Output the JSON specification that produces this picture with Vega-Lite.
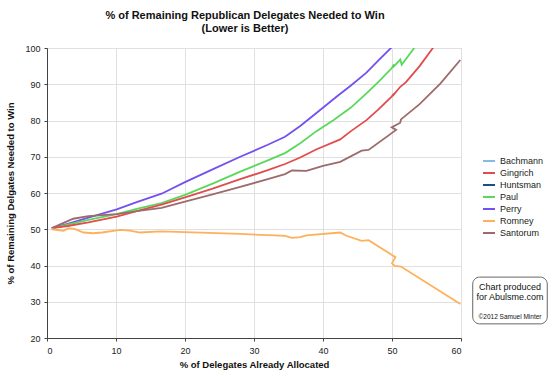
{
  "$schema": "https://vega.github.io/schema/vega-lite/v6.json",
  "autosize": "none",
  "width": 414,
  "height": 290,
  "padding": {"left": 47, "top": 48, "right": 99, "bottom": 44},
  "background": "white",
  "config": {
    "font": "Liberation Sans",
    "view": {"stroke": "#bbbbbb", "strokeWidth": 1},
    "axis": {"labelFont": "Liberation Sans", "titleFont": "Liberation Sans", "labelFontSize": 9, "titleFontSize": 9.5, "labelColor": "#222", "titleColor": "#111", "gridColor": "#e0e0e0", "domainColor": "#444", "tickColor": "#444", "labelOverlap": false}
  },
  "title": {
    "text": ["% of Remaining Republican Delegates Needed to Win", "(Lower is Better)"],
    "fontSize": 11, "fontWeight": "bold", "font": "Liberation Sans", "color": "#111",
    "anchor": "middle", "offset": 10, "lineHeight": 13, "dx": -9
  },
  "datasets": {
    "lines": [
      {"c": "Bachmann", "i": 1, "x": 0.7, "y": 50.3},
      {"c": "Bachmann", "i": 2, "x": 1.5, "y": 50.7},
      {"c": "Huntsman", "i": 1, "x": 0.7, "y": 50.3},
      {"c": "Huntsman", "i": 2, "x": 2.5, "y": 51.0},
      {"c": "Perry", "i": 1, "x": 0.7, "y": 50.3},
      {"c": "Perry", "i": 2, "x": 3, "y": 51.5},
      {"c": "Perry", "i": 3, "x": 6, "y": 53.2},
      {"c": "Perry", "i": 4, "x": 10.1, "y": 55.5},
      {"c": "Perry", "i": 5, "x": 13, "y": 57.5},
      {"c": "Perry", "i": 6, "x": 16.6, "y": 59.8},
      {"c": "Perry", "i": 7, "x": 20, "y": 63},
      {"c": "Perry", "i": 8, "x": 24, "y": 66.5},
      {"c": "Perry", "i": 9, "x": 28, "y": 70},
      {"c": "Perry", "i": 10, "x": 32, "y": 73.3},
      {"c": "Perry", "i": 11, "x": 34.5, "y": 75.5},
      {"c": "Perry", "i": 12, "x": 36.7, "y": 78.5},
      {"c": "Perry", "i": 13, "x": 39, "y": 82},
      {"c": "Perry", "i": 14, "x": 42, "y": 86.6},
      {"c": "Perry", "i": 15, "x": 44, "y": 89.6},
      {"c": "Perry", "i": 16, "x": 46.3, "y": 93.2},
      {"c": "Perry", "i": 17, "x": 48, "y": 96.5},
      {"c": "Perry", "i": 18, "x": 49.95, "y": 100.2},
      {"c": "Paul", "i": 1, "x": 0.7, "y": 50.3},
      {"c": "Paul", "i": 2, "x": 3, "y": 51.3},
      {"c": "Paul", "i": 3, "x": 6, "y": 52.6},
      {"c": "Paul", "i": 4, "x": 10.1, "y": 54.2},
      {"c": "Paul", "i": 5, "x": 13, "y": 55.6},
      {"c": "Paul", "i": 6, "x": 16.6, "y": 57.2},
      {"c": "Paul", "i": 7, "x": 20, "y": 59.5},
      {"c": "Paul", "i": 8, "x": 24, "y": 62.6},
      {"c": "Paul", "i": 9, "x": 28, "y": 65.9},
      {"c": "Paul", "i": 10, "x": 32, "y": 69},
      {"c": "Paul", "i": 11, "x": 34.5, "y": 71},
      {"c": "Paul", "i": 12, "x": 36.7, "y": 73.7},
      {"c": "Paul", "i": 13, "x": 39, "y": 77},
      {"c": "Paul", "i": 14, "x": 41.5, "y": 80.1},
      {"c": "Paul", "i": 15, "x": 44, "y": 83.5},
      {"c": "Paul", "i": 16, "x": 46.3, "y": 87.5},
      {"c": "Paul", "i": 17, "x": 48, "y": 90.6},
      {"c": "Paul", "i": 18, "x": 49.95, "y": 94.4},
      {"c": "Paul", "i": 19, "x": 50.3, "y": 95.5},
      {"c": "Paul", "i": 20, "x": 50.1, "y": 94.6},
      {"c": "Paul", "i": 21, "x": 51.2, "y": 96.8},
      {"c": "Paul", "i": 22, "x": 51.4, "y": 95.4},
      {"c": "Paul", "i": 23, "x": 53.3, "y": 100.2},
      {"c": "Gingrich", "i": 1, "x": 0.7, "y": 50.3},
      {"c": "Gingrich", "i": 2, "x": 3, "y": 50.9},
      {"c": "Gingrich", "i": 3, "x": 6, "y": 51.9},
      {"c": "Gingrich", "i": 4, "x": 10.1, "y": 53.5},
      {"c": "Gingrich", "i": 5, "x": 13, "y": 55},
      {"c": "Gingrich", "i": 6, "x": 16.6, "y": 56.8},
      {"c": "Gingrich", "i": 7, "x": 20, "y": 58.8},
      {"c": "Gingrich", "i": 8, "x": 24, "y": 61.2},
      {"c": "Gingrich", "i": 9, "x": 28, "y": 63.8},
      {"c": "Gingrich", "i": 10, "x": 32, "y": 66.3},
      {"c": "Gingrich", "i": 11, "x": 34.5, "y": 68},
      {"c": "Gingrich", "i": 12, "x": 36.7, "y": 69.8},
      {"c": "Gingrich", "i": 13, "x": 39, "y": 72},
      {"c": "Gingrich", "i": 14, "x": 42.5, "y": 74.8},
      {"c": "Gingrich", "i": 15, "x": 44, "y": 77},
      {"c": "Gingrich", "i": 16, "x": 46.3, "y": 80.1},
      {"c": "Gingrich", "i": 17, "x": 48, "y": 83},
      {"c": "Gingrich", "i": 18, "x": 49.95, "y": 86.6},
      {"c": "Gingrich", "i": 19, "x": 50.3, "y": 87.4},
      {"c": "Gingrich", "i": 20, "x": 50.1, "y": 86.8},
      {"c": "Gingrich", "i": 21, "x": 51.2, "y": 89.3},
      {"c": "Gingrich", "i": 22, "x": 52, "y": 90.5},
      {"c": "Gingrich", "i": 23, "x": 54, "y": 95},
      {"c": "Gingrich", "i": 24, "x": 56, "y": 100.2},
      {"c": "Santorum", "i": 1, "x": 0.7, "y": 50.3},
      {"c": "Santorum", "i": 2, "x": 2, "y": 51.4},
      {"c": "Santorum", "i": 3, "x": 3.8, "y": 52.9},
      {"c": "Santorum", "i": 4, "x": 6, "y": 53.6},
      {"c": "Santorum", "i": 5, "x": 10.1, "y": 54.2},
      {"c": "Santorum", "i": 6, "x": 13, "y": 55},
      {"c": "Santorum", "i": 7, "x": 16.6, "y": 55.9},
      {"c": "Santorum", "i": 8, "x": 20, "y": 57.6},
      {"c": "Santorum", "i": 9, "x": 24, "y": 59.6},
      {"c": "Santorum", "i": 10, "x": 28, "y": 61.7},
      {"c": "Santorum", "i": 11, "x": 32, "y": 63.8},
      {"c": "Santorum", "i": 12, "x": 34.5, "y": 65.2},
      {"c": "Santorum", "i": 13, "x": 35.5, "y": 66.2},
      {"c": "Santorum", "i": 14, "x": 37.6, "y": 66.1},
      {"c": "Santorum", "i": 15, "x": 40, "y": 67.5},
      {"c": "Santorum", "i": 16, "x": 42.5, "y": 68.6},
      {"c": "Santorum", "i": 17, "x": 45.6, "y": 71.7},
      {"c": "Santorum", "i": 18, "x": 46.6, "y": 71.9},
      {"c": "Santorum", "i": 19, "x": 50.6, "y": 77.4},
      {"c": "Santorum", "i": 20, "x": 49.95, "y": 78.1},
      {"c": "Santorum", "i": 21, "x": 51.2, "y": 79.4},
      {"c": "Santorum", "i": 22, "x": 51.3, "y": 80.3},
      {"c": "Santorum", "i": 23, "x": 54, "y": 84.5},
      {"c": "Santorum", "i": 24, "x": 57, "y": 90.2},
      {"c": "Santorum", "i": 25, "x": 59.9, "y": 96.7},
      {"c": "Romney", "i": 1, "x": 0.7, "y": 50},
      {"c": "Romney", "i": 2, "x": 2.4, "y": 49.6},
      {"c": "Romney", "i": 3, "x": 3.1, "y": 50.3},
      {"c": "Romney", "i": 4, "x": 4, "y": 50.1},
      {"c": "Romney", "i": 5, "x": 5.3, "y": 49.1},
      {"c": "Romney", "i": 6, "x": 6.7, "y": 48.9},
      {"c": "Romney", "i": 7, "x": 8, "y": 49.1},
      {"c": "Romney", "i": 8, "x": 10.6, "y": 49.8},
      {"c": "Romney", "i": 9, "x": 12, "y": 49.6},
      {"c": "Romney", "i": 10, "x": 13.5, "y": 49.1},
      {"c": "Romney", "i": 11, "x": 16.4, "y": 49.4},
      {"c": "Romney", "i": 12, "x": 20, "y": 49.2},
      {"c": "Romney", "i": 13, "x": 28, "y": 48.7},
      {"c": "Romney", "i": 14, "x": 33, "y": 48.3},
      {"c": "Romney", "i": 15, "x": 34.5, "y": 48.2},
      {"c": "Romney", "i": 16, "x": 35.5, "y": 47.6},
      {"c": "Romney", "i": 17, "x": 36.7, "y": 47.8},
      {"c": "Romney", "i": 18, "x": 37.6, "y": 48.3},
      {"c": "Romney", "i": 19, "x": 42.5, "y": 49.1},
      {"c": "Romney", "i": 20, "x": 43.4, "y": 48.2},
      {"c": "Romney", "i": 21, "x": 45.6, "y": 46.8},
      {"c": "Romney", "i": 22, "x": 46.6, "y": 47.0},
      {"c": "Romney", "i": 23, "x": 50.5, "y": 42.3},
      {"c": "Romney", "i": 24, "x": 50, "y": 40.6},
      {"c": "Romney", "i": 25, "x": 50.4, "y": 39.9},
      {"c": "Romney", "i": 26, "x": 51.3, "y": 39.7},
      {"c": "Romney", "i": 27, "x": 59.9, "y": 29.4}
    ],
    "box": [{"x1": 61.7, "x2": 72.5, "y1": 23.9, "y2": 36.8}],
    "notes": [
      {"t": "Chart produced", "x": 67.1, "y": 34.1, "s": "big"},
      {"t": "for Abulsme.com", "x": 67.1, "y": 31.2, "s": "big"},
      {"t": "©2012 Samuel Minter", "x": 67.1, "y": 25.8, "s": "small"}
    ]
  },
  "layer": [
    {
      "data": {"name": "lines"},
      "mark": {"type": "line", "strokeWidth": 1.8, "clip": true},
      "encoding": {
        "x": {"field": "x", "type": "quantitative", "scale": {"domain": [0, 60], "nice": false},
              "axis": {"values": [0, 10, 20, 30, 40, 50, 60], "title": "% of Delegates Already Allocated", "titleFontWeight": "bold", "titlePadding": 4, "labelPadding": 5, "tickSize": 3}},
        "y": {"field": "y", "type": "quantitative", "scale": {"domain": [20, 100], "nice": false},
              "axis": {"values": [20, 30, 40, 50, 60, 70, 80, 90, 100], "title": "% of Remaining Delgates Needed to Win", "titleFontWeight": "bold", "titlePadding": 9, "labelPadding": 4, "tickSize": 3}},
        "color": {"field": "c", "type": "nominal", "title": null,
          "scale": {"domain": ["Bachmann", "Gingrich", "Huntsman", "Paul", "Perry", "Romney", "Santorum"],
                    "range": ["#86b9ea", "#e24c4c", "#1f4c8a", "#5ad85a", "#7350f0", "#ffb05a", "#9c6b6b"]},
          "legend": {"orient": "none", "legendX": 435, "legendY": 106, "symbolType": "stroke", "symbolStrokeWidth": 2, "symbolSize": 144, "labelFontSize": 9, "labelFont": "Liberation Sans", "rowPadding": -0.5, "labelOffset": 4, "labelColor": "#222"}},
        "order": {"field": "i", "type": "quantitative"}
      }
    },
    {
      "data": {"name": "box"},
      "mark": {"type": "rect", "fill": "white", "stroke": "#666", "strokeWidth": 1, "cornerRadius": 7, "clip": false},
      "encoding": {
        "x": {"field": "x1", "type": "quantitative",
              "axis": {"values": [0, 10, 20, 30, 40, 50, 60], "title": "% of Delegates Already Allocated", "titleFontWeight": "bold", "titlePadding": 4, "labelPadding": 5, "tickSize": 3}},
        "x2": {"field": "x2"},
        "y": {"field": "y1", "type": "quantitative",
              "axis": {"values": [20, 30, 40, 50, 60, 70, 80, 90, 100], "title": "% of Remaining Delgates Needed to Win", "titleFontWeight": "bold", "titlePadding": 9, "labelPadding": 4, "tickSize": 3}},
        "y2": {"field": "y2"}
      }
    },
    {
      "data": {"name": "notes"},
      "mark": {"type": "text", "font": "Liberation Sans", "align": "center", "baseline": "middle", "clip": false, "color": "#111"},
      "encoding": {
        "x": {"field": "x", "type": "quantitative",
              "axis": {"values": [0, 10, 20, 30, 40, 50, 60], "title": "% of Delegates Already Allocated", "titleFontWeight": "bold", "titlePadding": 4, "labelPadding": 5, "tickSize": 3}},
        "y": {"field": "y", "type": "quantitative",
              "axis": {"values": [20, 30, 40, 50, 60, 70, 80, 90, 100], "title": "% of Remaining Delgates Needed to Win", "titleFontWeight": "bold", "titlePadding": 9, "labelPadding": 4, "tickSize": 3}},
        "text": {"field": "t"},
        "size": {"field": "s", "type": "nominal", "scale": {"domain": ["big", "small"], "range": [9, 6.5]}, "legend": null},
        "fontWeight": {"field": "s", "type": "nominal", "scale": {"domain": ["big", "small"], "range": ["bold", "normal"]}, "legend": null}
      }
    }
  ]
}
